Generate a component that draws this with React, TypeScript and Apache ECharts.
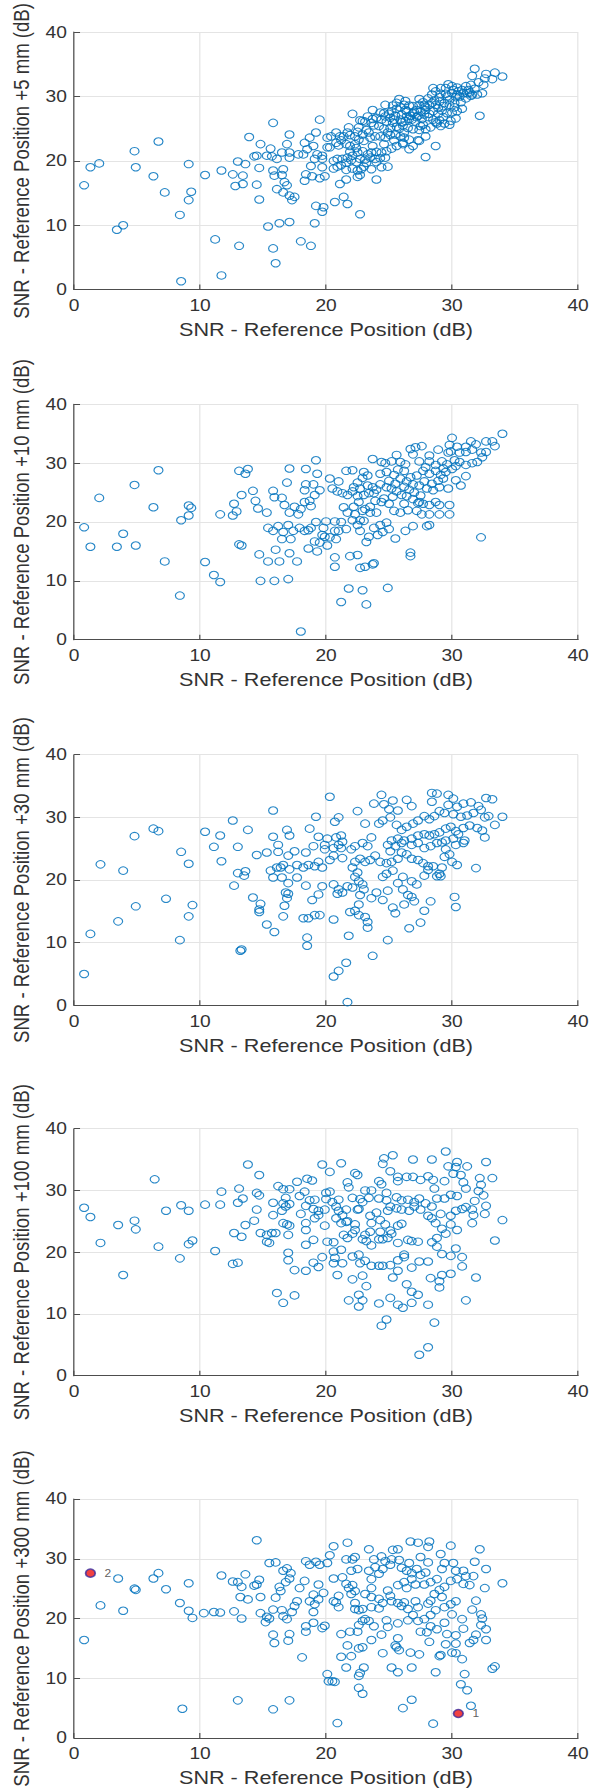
import { useEffect, useRef } from "react";
import * as echarts from "echarts";

type Pt = [number, number];

// ---------- texts ----------
const xAxisTitle = "SNR - Reference Position (dB)";
const yTitles = [
  "SNR - Reference Position +5 mm (dB)",
  "SNR - Reference Position +10 mm (dB)",
  "SNR - Reference Position +30 mm (dB)",
  "SNR - Reference Position +100 mm (dB)",
  "SNR - Reference Position +300 mm (dB)",
];
const axisMin = 0;
const axisMax = 40;
const axisStep = 10;

// ---------- data (x: SNR reference, y: SNR displaced) ----------
const snr5mm: Pt[] = [
  [0.8,16.2],[1.3,19.0],[2.0,19.6],[3.4,9.3],[3.9,10.0],[4.8,21.5],[4.9,19.0],[6.3,17.6],[6.7,23.0],[7.2,15.1],[8.4,11.6],[8.5,1.3],[9.1,19.5],[9.1,13.9],[9.3,15.2],
  [31.8,34.3],[33.4,33.7],[34.0,33.1],[32.7,33.5],[31.6,33.2],[32.6,32.8],[33.2,32.7],[32.5,31.8],[32.1,32.2],[31.5,31.8],[31.1,31.6],[30.4,31.4],[30.1,31.0],[29.7,31.9],[29.5,31.3],[29.1,31.3],[28.5,31.3],[28.7,30.8],[28.4,30.3],[29.1,30.4],[29.5,30.4],[30.0,30.5],[30.5,30.8],[30.9,30.5],[31.2,30.5],[31.6,30.3],[32.0,30.3],[32.4,30.5],[31.8,31.2],[30.3,29.9],[29.8,29.5],[29.4,29.0],[29.0,29.2],[28.7,28.7],[28.2,28.7],[28.1,29.7],[27.7,29.1],[27.4,28.7],[27.2,27.9],[26.9,28.5],[26.6,28.6],[26.2,28.7],[25.8,29.6],[25.6,29.0],[25.3,28.6],[24.7,28.7],[25.6,28.1],[26.4,27.7],[26.9,27.4],[27.5,27.7],[27.9,27.9],[28.5,27.7],[28.9,28.2],[29.2,27.8],[29.6,27.4],[30.0,27.5],[30.4,27.7],[30.8,28.1],[29.8,28.7],[30.2,29.0],[30.7,29.1],[31.1,29.7],[31.5,30.1],[32.2,27.0],[31.3,31.0],
  [25.1,26.7],[24.7,26.9],[24.4,26.4],[24.8,26.1],[25.3,25.9],[25.9,26.4],[26.4,26.9],[26.8,26.4],[27.1,26.1],[27.6,26.5],[28.1,26.8],[28.5,26.4],[29.0,26.3],[29.4,25.8],[29.8,25.6],[29.1,25.4],[28.3,25.2],[27.9,24.9],[27.4,24.8],[26.9,24.9],[26.5,25.1],[26.1,25.5],[25.6,25.3],[25.1,25.1],[24.6,25.0],[24.2,25.4],[23.8,25.5],[23.6,25.9],[23.7,26.5],[23.3,26.9],[22.9,26.2],[22.7,26.3],[23.1,26.1],[22.1,27.3],[23.7,27.9],[23.4,24.4],[22.9,24.1],[22.5,24.5],[22.3,23.8],[21.9,24.0],[21.7,24.4],[21.4,23.8],[21.1,23.8],[20.8,24.4],[20.4,23.8],[20.1,23.6],[20.3,22.1],[20.8,22.8],[21.2,23.2],[21.6,22.6],[21.9,22.3],[22.3,22.6],[22.6,23.3],[23.0,23.1],[23.5,23.6],[23.9,23.8],[24.3,23.8],[24.7,23.6],[25.1,24.0],[25.5,24.1],[25.9,23.8],[26.2,23.6],[26.6,23.3],[27.3,23.2],[27.9,23.8],[28.7,22.3],[26.6,21.8],[26.1,22.6],[25.6,22.3],[25.2,21.9],[24.8,21.5],[24.4,21.3],[24.0,21.4],[23.6,21.3],[23.3,21.0],[22.9,21.5],[22.5,21.3],[22.1,20.8],[21.7,20.5],[21.3,20.3],[20.9,20.3],[20.6,20.0],[20.6,18.8],[20.9,19.1],[21.2,19.3],[21.6,19.7],[22.0,20.1],[22.4,19.8],[22.7,20.3],[23.1,20.2],[23.5,20.5],[23.9,20.3],[24.3,20.4],[24.7,20.5],[24.9,19.1],[24.4,19.0],[24.0,19.8],[23.6,18.7],[23.2,19.7],[22.8,18.7],[22.5,18.5],[22.1,18.8],[21.6,18.6],[22.5,17.5],[22.7,17.8],[21.6,17.1],[21.1,16.4],[24.0,17.1],[27.9,20.6],[27.4,23.1],[26.9,22.3],[26.1,22.8],
  [25.0,27.3],[25.5,27.0],[26.0,27.2],[26.3,26.2],[26.7,27.0],[27.0,27.6],[27.3,27.0],[27.8,27.2],[28.2,27.3],[25.8,25.0],[26.2,24.4],[27.7,25.6],[28.8,25.8],[29.3,26.8],[29.9,26.2],[30.3,26.6],[30.2,28.3],[30.6,30.0],[29.3,28.5],[28.6,29.4],[27.9,28.4],[27.4,29.6],[26.3,29.3],[24.3,27.5],[24.0,26.7],[24.9,24.4],[23.2,24.8],[22.6,25.2],[21.8,25.2],[21.0,22.4],[22.4,22.0],[23.7,22.3],[24.6,22.6],[25.4,23.2],[23.0,19.1],[21.9,21.4],
  [26.0,26.0],[25.4,26.4],[26.6,26.5],[27.2,26.8],[27.8,28.6],[28.4,29.0],[29.0,29.9],[29.6,30.0],[30.4,30.3],[30.8,31.0],[31.4,30.6],[30.0,31.6],[28.9,27.3],[26.3,27.9],[25.9,28.3],[25.2,27.7],[24.6,27.4],[27.5,25.4],[28.7,26.0],
  [19.5,26.4],[19.2,24.4],[18.7,23.6],[18.3,22.8],[18.5,21.8],[18.2,21.0],[17.8,21.0],[19.0,22.3],[19.3,21.0],[19.7,20.8],[19.1,20.3],[18.8,19.2],[18.4,17.9],[18.3,16.9],[18.9,17.6],[19.5,17.3],[19.9,17.6],[19.7,19.0],[19.7,20.3],[20.1,22.1],[17.1,24.1],[16.9,22.6],[16.5,21.3],[16.1,20.3],[15.7,20.7],[15.3,20.8],[14.5,20.8],[14.3,20.7],[13.9,23.7],[14.8,22.6],[15.6,21.9],[13.6,19.5],[13.0,19.9],[12.6,17.9],[11.7,18.5],[10.4,17.8],[12.8,16.1],[13.4,16.4],[13.4,17.7],[14.5,16.3],[14.7,18.9],[15.8,18.5],[15.9,17.7],[16.6,18.7],[16.5,17.8],[16.7,16.7],[16.9,16.2],[17.1,14.6],[16.6,15.1],[16.1,15.6],[17.3,13.9],[17.5,14.4],[17.1,20.5],[17.1,21.3],[15.8,25.9],[14.7,14.0],[19.2,13.0],[19.8,12.8],[19.7,12.1],[20.7,13.6],[21.4,14.4],[21.7,13.3],[22.7,11.7],[15.4,9.8],[16.3,10.3],[17.1,10.5],[19.1,10.3],[11.2,7.8],[13.1,6.8],[15.8,6.4],[18.0,7.5],[18.8,6.8],[16.0,4.1],[11.7,2.2],
];

const snr10mm: Pt[] = [
  [0.8,19.1],[1.3,15.8],[2.0,24.1],[3.4,15.8],[3.9,18.0],[4.8,26.3],[4.9,16.0],[6.3,22.5],[6.7,28.8],[7.2,13.3],[8.4,7.5],[8.5,20.3],[9.1,22.8],[9.1,21.1],[9.3,22.4],
  [34.0,35.0],[30.0,34.3],[31.5,33.7],[32.7,33.7],[33.2,33.7],[33.4,32.9],[31.9,33.2],[31.1,32.8],[30.4,32.8],[29.8,33.1],[29.9,32.0],[30.6,31.8],[31.1,31.9],[31.6,32.3],[32.3,31.8],[32.7,31.9],[32.4,31.0],[32.0,30.2],[31.6,30.0],[31.1,29.7],[30.6,30.2],[30.2,30.5],[29.7,31.8],[28.9,32.3],[28.2,31.3],[27.6,32.9],[27.1,32.7],[26.7,32.4],[26.9,31.5],[27.4,30.3],[28.2,30.3],[28.7,29.7],[29.3,29.1],[29.5,28.5],[29.1,28.0],[28.7,28.7],[28.2,28.2],[27.7,28.7],[27.2,27.9],[26.7,27.6],[26.2,28.7],[25.6,31.4],[25.9,30.2],[25.2,30.3],[24.7,30.0],[24.4,30.2],[23.7,30.7],[24.3,28.2],[24.8,28.5],[25.4,28.0],[25.9,27.4],[26.4,26.9],[26.9,26.4],[27.4,26.2],[28.0,25.7],[28.5,25.4],[29.0,25.9],[29.7,25.7],[30.3,27.1],[30.7,26.2],[31.1,27.8],[32.3,17.4],
  [22.1,28.8],[21.6,28.7],[23.0,28.5],[23.3,27.9],[22.9,27.5],[22.5,26.7],[22.2,25.9],[22.7,25.7],[23.3,26.2],[23.7,25.9],[23.8,24.9],[23.4,24.9],[23.0,24.6],[22.5,24.4],[22.1,25.2],[21.7,24.6],[21.3,24.9],[20.9,25.2],[20.5,25.7],[20.3,27.4],[21.0,26.9],[24.3,26.4],[24.8,25.9],[25.2,25.7],[25.6,25.2],[26.0,24.6],[26.4,24.4],[26.9,23.9],[27.4,23.4],[27.7,23.1],[28.2,22.9],[28.7,23.4],[29.0,22.9],[29.8,22.9],[28.2,21.3],[29.0,21.3],[29.8,21.3],[27.6,21.3],[27.3,23.2],[26.5,22.0],[25.9,21.6],[25.4,21.9],[25.0,23.1],[24.4,23.4],[23.9,23.6],[23.5,22.6],[23.1,22.2],[22.6,23.4],[22.2,22.6],[21.7,21.6],[22.3,21.3],[22.7,20.3],[23.0,20.2],[23.5,21.6],[24.0,21.6],[24.3,19.5],[24.8,19.9],[25.0,18.8],[24.5,18.3],[24.1,17.8],[23.8,19.0],[23.4,17.5],[23.2,16.6],[22.7,18.5],[22.5,19.5],[22.1,20.3],[21.6,18.8],[21.2,20.0],[20.7,20.1],[20.7,18.5],[20.8,17.1],[20.3,17.4],[19.9,17.5],[20.1,16.0],[19.7,17.8],[19.8,19.0],[20.0,20.1],[21.0,18.5],[25.5,17.2],[26.3,18.5],[26.9,19.3],[28.0,19.3],[28.2,19.5],[26.7,14.8],[26.7,14.2],[22.5,14.4],[21.9,14.2],[20.7,14.0],[20.7,12.4],[22.7,12.2],[23.1,12.4],[23.7,12.8],[23.8,13.0],[21.8,8.7],[22.9,8.4],[24.9,8.8],[21.2,6.4],[23.2,6.0],[18.0,1.4],
  [25.5,26.5],[26.2,26.0],[26.6,25.5],[27.0,25.0],[27.5,24.5],[25.0,27.0],[25.7,28.9],[26.3,29.8],[27.9,29.3],[28.9,27.0],[29.3,27.4],[29.6,29.8],[30.0,29.0],[30.3,29.5],[29.2,30.3],[28.4,26.5],[27.8,26.9],[24.6,24.0],[25.3,24.3],[24.0,25.5],[22.9,21.9],[21.4,22.5],[26.2,23.1],[27.2,21.9],
  [19.2,30.5],[18.4,29.0],[19.3,28.2],[17.1,29.1],[16.9,26.7],[18.4,26.4],[19.0,26.4],[18.3,25.4],[19.5,25.4],[19.1,24.6],[18.7,23.6],[18.8,22.7],[18.3,23.4],[18.0,22.2],[17.8,21.3],[17.5,22.6],[17.1,21.6],[16.7,22.9],[16.5,24.1],[15.9,24.2],[15.8,25.3],[15.3,21.6],[14.6,22.3],[14.4,23.6],[14.2,25.3],[13.3,24.6],[12.7,23.1],[12.9,21.8],[12.6,21.1],[11.6,21.3],[13.1,28.7],[13.6,28.2],[13.8,29.0],[15.4,19.0],[15.8,18.5],[16.2,19.3],[16.6,18.3],[17.0,19.5],[17.2,17.1],[16.5,17.1],[17.4,18.5],[17.9,19.0],[18.6,18.6],[18.8,19.0],[18.3,18.5],[19.2,20.0],[19.1,16.7],[18.6,15.5],[19.3,15.0],[19.5,16.5],[16.0,15.3],[17.1,14.7],[17.7,13.3],[14.7,14.5],[15.4,13.3],[16.3,13.3],[13.1,16.2],[13.3,16.0],[14.8,10.0],[15.9,10.0],[17.0,10.3],[10.4,13.2],[11.1,11.0],[11.6,9.8],
];

const snr30mm: Pt[] = [
  [0.8,5.0],[1.3,11.4],[2.1,22.5],[3.5,13.4],[3.9,21.5],[4.8,27.0],[4.9,15.8],[6.3,28.2],[6.7,27.8],[7.3,17.0],[8.4,10.4],[8.5,24.5],[9.1,22.6],[9.1,14.2],[9.4,16.0],
  [20.3,33.3],[24.4,33.6],[23.8,32.2],[24.6,32.1],[25.3,32.7],[25.0,31.3],[25.7,31.1],[26.4,32.8],[26.8,31.8],[22.5,31.0],[19.2,30.1],[15.8,31.1],[12.6,29.5],[10.4,27.7],[11.6,27.1],[13.8,28.0],[11.1,25.3],[13.0,25.3],[11.7,23.0],[16.9,28.0],[17.1,27.1],[15.8,26.9],[16.2,25.6],[18.7,28.2],[19.4,26.9],[21.0,30.0],[20.7,29.3],[20.1,26.6],[20.8,26.8],[21.2,27.1],[21.3,26.1],[21.0,25.6],[20.6,25.1],[19.9,25.6],[19.9,24.9],[19.0,25.4],[18.4,24.4],[17.5,24.6],[17.0,23.9],[16.2,24.5],[15.3,24.4],[14.5,24.0],[16.6,22.4],[16.4,22.0],[17.1,21.7],[17.7,22.4],[18.2,22.0],[18.6,22.4],[19.1,22.2],[19.4,22.9],[19.7,22.0],[20.3,23.2],[20.6,23.9],[21.3,23.5],[21.2,25.1],[22.0,24.9],[22.3,25.4],[22.9,25.9],[23.3,25.4],[23.6,26.8],[23.1,29.0],[24.2,29.0],[24.5,29.5],[25.1,30.0],[25.6,28.8],[26.0,28.0],[26.4,28.5],[26.9,29.0],[27.3,29.5],[27.8,30.2],[28.2,29.7],[28.6,30.2],[29.0,31.0],[29.4,30.7],[28.4,32.5],[28.4,33.9],[28.8,33.8],[29.7,33.6],[30.1,33.0],[29.7,32.0],[30.4,31.7],[30.9,32.2],[31.5,32.4],[32.1,31.8],[32.7,33.1],[33.2,32.9],[32.3,31.2],[31.7,30.7],[31.2,30.3],[30.7,30.1],[30.1,30.5],[32.6,30.0],[32.9,30.2],[34.0,30.1],[33.4,28.8],[32.4,27.9],[32.0,28.3],[32.6,26.8],[31.4,28.7],[30.9,28.3],[30.3,27.8],[29.9,28.5],[29.5,28.2],[29.0,27.6],[28.6,27.3],[28.2,27.1],[27.8,27.3],[27.3,27.1],[26.8,26.6],[26.2,26.3],[25.7,26.6],[25.2,26.3],[24.9,25.6],[25.1,24.6],[25.5,25.4],[26.0,25.9],[26.8,25.6],[27.3,25.9],[27.8,25.1],[28.3,25.4],[28.8,25.9],[29.2,26.0],[29.5,26.3],[30.1,26.6],[30.5,27.3],[31.0,26.3],[30.9,25.9],[30.3,25.6],[29.5,24.9],[29.8,24.1],[29.4,23.7],[30.0,22.9],[30.4,22.4],[29.2,22.0],[29.0,21.0],[28.8,20.6],[28.5,22.2],[28.1,22.2],[27.7,22.7],[27.3,23.2],[26.8,23.4],[26.4,24.1],[26.0,24.4],[25.7,23.4],[25.2,22.9],[24.8,22.7],[24.3,22.9],[23.9,23.9],[23.5,23.2],[23.1,22.9],[22.7,23.4],[22.3,22.9],[22.1,22.0],[22.5,21.2],[22.3,20.5],[22.6,19.8],[22.9,19.3],[23.0,18.5],[22.7,17.6],[22.6,16.1],[22.3,15.1],[22.6,14.4],[23.1,14.1],[23.3,13.3],[23.3,12.4],[21.9,14.9],[22.1,18.8],[21.7,19.0],[21.0,18.5],[20.6,19.3],[20.9,17.8],[21.3,18.0],[20.6,13.7],[21.8,11.1],[23.6,17.1],[24.0,18.0],[24.5,16.8],[24.9,18.3],[25.3,15.6],[25.5,14.7],[25.7,19.5],[26.1,18.5],[26.2,16.1],[26.5,17.6],[26.8,19.8],[27.2,19.3],[27.0,16.6],[26.8,17.3],[27.8,15.1],[27.5,13.2],[28.3,16.6],[26.6,12.3],[24.9,10.4],[23.7,7.9],[21.6,6.8],[21.0,5.5],[20.6,4.6],[21.7,0.5],[30.2,17.3],[30.3,15.7],[31.9,21.9],[29.1,20.6],[24.5,20.5],[24.8,21.0],[25.3,21.5],[26.1,20.5],[27.8,20.7],[28.1,21.6],
  [19.1,14.4],[19.5,14.4],[18.9,16.8],[16.8,18.0],[17.0,17.8],[16.9,17.1],[16.7,15.9],[16.6,14.2],[15.3,12.9],[15.9,11.7],[14.2,17.2],[14.8,16.2],[14.7,14.9],[14.7,15.3],[12.7,19.1],[13.0,21.1],[13.5,20.7],[13.6,21.4],[13.2,8.7],[13.3,8.9],[15.6,21.5],[15.8,20.4],[16.1,22.0],[16.5,20.4],[17.0,19.5],[17.7,20.4],[18.4,19.1],[18.5,10.8],[18.5,9.5],[19.7,19.0],[19.4,17.7],[18.2,13.9],[18.6,13.9],
];

const snr100mm: Pt[] = [
  [0.8,27.2],[1.3,25.7],[2.1,21.5],[3.5,24.4],[3.9,16.3],[4.8,25.1],[4.9,23.7],[6.4,31.8],[6.7,20.9],[7.3,26.7],[8.4,19.0],[8.5,27.6],[9.1,21.3],[9.1,26.7],[9.4,21.9],
  [13.8,34.2],[14.7,32.5],[10.4,27.7],[11.6,27.7],[11.7,29.8],[13.1,30.3],[13.0,28.0],[13.4,28.7],[14.5,29.6],[14.7,29.2],[14.5,26.9],[14.3,25.1],[13.6,24.4],[12.7,23.1],[13.3,22.5],[11.2,20.2],[12.6,18.1],[13.0,18.3],[14.8,23.1],[15.3,22.8],[15.5,21.5],[15.3,21.7],[15.7,23.1],[16.0,23.1],[15.8,26.0],[15.8,28.0],[16.2,30.7],[16.6,30.2],[17.1,30.2],[17.7,31.4],[16.6,27.9],[16.8,27.4],[17.1,27.8],[16.8,28.8],[16.5,26.7],[16.6,24.7],[16.9,24.5],[17.1,24.3],[17.0,22.8],[17.0,19.9],[17.0,18.7],[17.5,17.1],[16.1,13.4],[16.6,11.8],[17.5,13.0],[17.9,29.1],[18.3,29.8],[18.5,31.9],[18.9,31.6],[18.0,26.2],[18.4,27.5],[18.7,28.4],[19.1,28.5],[19.0,27.0],[19.4,26.7],[19.1,25.5],[19.4,26.0],[18.4,24.7],[18.4,23.6],[19.0,22.0],[18.4,21.2],[18.4,17.0],[19.0,18.3],[19.4,17.6],[19.7,19.2],
  [19.7,34.2],[20.3,33.0],[20.0,29.6],[20.3,29.8],[20.0,28.6],[20.5,28.1],[19.9,26.9],[19.9,24.3],[20.1,21.7],[20.6,21.6],[20.6,20.1],[20.7,19.1],[20.6,18.2],[21.3,18.2],[21.2,34.4],[21.0,28.5],[20.8,27.4],[21.0,26.7],[21.3,26.0],[21.6,26.9],[20.8,25.5],[21.2,24.7],[20.9,16.3],[21.2,20.4],[21.7,31.3],[21.8,30.5],[22.1,28.8],[22.3,32.8],[22.5,32.5],[22.7,28.6],[21.7,25.0],[22.3,24.5],[22.5,26.9],[22.6,27.0],[22.9,28.1],[23.1,30.0],[23.4,28.8],[23.6,30.0],[24.2,31.5],[24.4,31.0],[24.5,34.3],[24.6,35.2],[25.3,35.7],[25.1,33.1],[25.7,32.2],[25.7,31.5],[26.4,32.2],[26.9,32.2],[26.9,35.0],[27.5,31.7],[28.1,32.3],[28.4,35.0],[28.5,31.7],[28.6,30.3],[29.5,36.3],[29.4,31.5],[29.7,33.9],[30.4,34.6],[30.3,33.8],[30.1,32.7],[30.7,32.5],[31.2,33.9],[30.9,31.3],[31.1,30.3],[32.2,32.0],[32.3,30.9],[32.7,34.6],[33.2,32.0],[32.5,29.2],[32.7,27.5],[32.6,26.2],[34.0,25.2],[33.4,21.9],[31.9,15.9],[31.1,12.2],
  [32.1,29.9],[31.8,28.3],[31.6,26.9],[31.6,24.7],[31.7,26.0],[31.1,27.3],[30.8,27.0],[30.4,29.1],[29.9,29.3],[29.4,28.7],[28.8,28.7],[28.4,27.4],[27.9,27.9],[27.4,28.7],[27.0,28.1],[26.5,28.5],[26.0,28.4],[25.6,28.9],[25.1,27.4],[24.9,26.7],[25.6,27.1],[26.0,26.9],[26.6,26.7],[27.0,27.4],[27.5,26.9],[28.1,25.9],[28.4,25.5],[28.7,24.7],[29.1,26.2],[29.9,25.9],[30.3,26.7],[29.9,24.5],[30.4,23.6],[29.5,23.0],[29.2,23.8],[28.8,22.3],[28.4,21.6],[28.8,20.9],[29.2,19.7],[29.9,19.4],[30.3,20.6],[30.8,19.2],[30.8,17.7],[29.9,16.5],[29.2,16.3],[29.0,15.3],[29.0,14.3],[28.3,15.8],[28.1,18.5],[27.4,18.5],[26.8,17.5],[26.4,14.8],[26.8,13.6],[27.3,13.1],[28.1,11.5],[28.6,8.6],[26.8,11.8],[26.1,11.0],[25.7,11.5],[25.1,12.6],[24.2,11.7],[24.8,9.1],[24.4,8.1],[28.1,4.6],[27.4,3.4],
  [25.7,17.0],[25.3,15.9],[25.7,18.7],[25.1,17.9],[24.5,17.8],[24.2,17.8],[23.6,17.8],[23.1,18.6],[22.7,18.2],[22.6,19.6],[22.1,19.3],[22.9,16.2],[23.2,14.5],[22.6,13.1],[22.9,12.2],[22.6,11.2],[21.8,12.2],[22.1,15.6],[26.2,19.6],[26.2,19.2],[26.5,22.0],[26.8,21.8],[27.3,21.7],[25.7,21.5],[25.1,23.5],[25.2,23.0],[25.7,24.3],[26.0,24.6],[24.7,24.5],[24.3,25.2],[23.6,24.7],[23.5,23.3],[23.1,22.8],[22.9,22.1],[23.2,21.8],[23.6,21.1],[24.2,22.1],[24.5,22.1],[24.9,22.3],[24.3,23.3],[22.3,23.6],[22.1,23.0],[21.7,22.3],[21.4,22.8],[21.6,24.9],[23.5,25.9],[24.0,26.4],[24.2,28.7],[24.8,28.4],[24.8,29.6],
];

const snr300mm: Pt[] = [
  [0.8,16.4],[2.1,22.2],[3.5,26.7],[3.9,21.3],[4.8,25.0],[4.9,24.8],[6.3,26.7],[6.7,27.6],[7.3,24.9],[8.4,22.6],[8.6,4.9],[9.1,25.9],[9.1,21.3],[9.4,20.1],
  [14.5,33.1],[11.7,27.2],[10.3,20.9],[11.1,21.1],[11.6,21.0],[12.6,26.2],[13.0,26.1],[13.3,25.3],[13.6,27.4],[13.2,23.6],[13.8,23.2],[12.7,21.2],[13.3,20.0],[14.3,25.5],[14.7,26.5],[14.5,25.7],[14.8,23.6],[14.8,20.9],[15.3,20.3],[15.2,19.4],[15.5,20.0],[15.5,29.3],[16.0,29.4],[15.8,21.5],[15.8,17.3],[15.9,15.9],[16.6,28.0],[16.9,28.4],[17.2,27.6],[17.1,26.7],[16.8,26.1],[16.3,25.3],[16.4,24.6],[16.0,23.5],[16.5,21.4],[16.6,20.4],[16.9,19.9],[17.3,21.1],[17.1,17.4],[17.0,16.3],[18.1,13.5],[17.5,22.1],[17.7,22.9],[17.9,25.1],[18.3,26.3],[18.4,29.6],[18.7,29.0],[19.2,29.5],[19.5,29.0],[19.0,24.0],[18.7,22.9],[19.1,22.4],[19.4,23.2],[19.0,21.1],[19.0,19.3],[18.4,18.7],[18.4,17.8],[19.7,18.4],[19.9,18.8],[19.4,25.7],[19.8,24.3],[13.0,6.3],[15.8,4.8],[17.1,6.3],
  [20.1,29.3],[20.3,30.6],[20.6,32.1],[20.1,10.7],[20.2,9.5],[20.5,9.5],[20.7,9.4],[20.9,2.5],[20.6,26.7],[20.6,22.9],[20.8,22.7],[21.0,21.9],[21.3,26.9],[21.6,25.8],[21.8,25.1],[21.0,23.8],[21.2,17.4],[21.6,11.8],[21.7,32.7],[21.6,29.9],[22.1,29.9],[22.3,30.3],[22.5,28.3],[22.0,28.0],[22.1,25.6],[22.3,24.6],[22.0,24.1],[22.3,22.6],[22.6,21.4],[22.3,21.6],[22.9,21.6],[22.9,19.6],[23.1,19.9],[22.6,18.9],[22.5,17.8],[21.9,17.8],[21.7,15.5],[22.0,13.7],[21.2,13.6],[22.6,15.0],[22.9,15.2],[23.0,11.8],[22.7,10.9],[22.6,10.4],[22.6,8.4],[22.9,7.4],
  [23.4,31.6],[23.8,29.9],[24.4,30.4],[24.7,29.6],[23.9,28.6],[23.4,28.0],[23.6,26.6],[24.2,27.5],[24.5,28.3],[25.1,29.0],[25.2,29.9],[25.3,31.5],[25.7,31.6],[25.8,29.8],[23.6,25.1],[23.1,24.1],[23.6,23.6],[24.2,23.3],[24.5,22.6],[25.1,23.8],[25.2,22.9],[25.7,22.6],[26.0,22.1],[24.9,24.7],[24.2,21.7],[23.6,21.9],[23.4,19.6],[23.8,18.7],[24.4,17.3],[24.8,19.7],[24.9,18.6],[25.7,19.2],[25.7,16.7],[25.5,15.5],[25.6,15.2],[25.8,14.7],[24.5,14.2],[25.2,11.8],[25.7,11.0],[23.6,16.4],[26.8,6.4],[26.1,5.0],[28.5,2.4],[26.7,14.3],[27.4,14.0],[26.8,11.8],
  [26.6,29.3],[26.0,28.5],[26.4,28.0],[26.8,27.6],[27.2,28.3],[27.5,27.3],[27.9,27.7],[26.8,26.6],[26.2,26.1],[25.7,25.6],[26.4,25.1],[27.1,25.7],[27.8,25.7],[28.3,26.1],[28.8,26.6],[29.0,24.8],[29.4,25.3],[29.9,26.3],[30.4,26.6],[30.9,25.8],[31.4,25.6],[31.1,27.1],[31.7,27.1],[30.9,28.0],[30.3,28.0],[30.1,29.3],[29.2,28.3],[29.4,29.3],[29.1,30.8],[28.1,29.4],[28.1,32.0],[27.5,30.3],[28.2,32.9],[27.3,32.7],[26.7,32.9],[29.9,32.2],[32.2,31.6],[31.8,29.5],[32.7,28.3],[32.6,25.1],[34.0,25.9],[31.9,23.0],[30.3,22.9],[29.9,22.4],[29.4,21.9],[28.7,21.4],[28.3,20.6],[27.8,19.9],[27.3,19.6],[26.9,20.6],[26.5,21.6],[27.3,21.9],[28.1,22.5],[28.6,24.1],[29.2,23.6],[28.3,23.0],[27.1,22.9],[26.2,22.7],[26.5,19.7],[28.3,18.7],[28.0,17.7],[27.5,17.8],[28.8,18.2],[29.4,19.3],[30.0,20.7],[30.8,19.9],[30.9,18.3],[31.6,21.5],[32.3,20.7],[32.4,20.0],[32.3,18.9],[32.7,18.2],[32.7,16.4],[31.9,17.3],[31.7,16.4],[31.4,15.9],[30.3,17.2],[30.3,15.8],[30.3,14.2],[29.6,17.4],[29.0,13.7],[29.1,13.9],[28.2,16.1],[28.7,11.0],[31.0,10.7],[30.7,9.0],[31.2,8.0],[31.5,5.4],[33.2,11.6],[33.4,12.0],[30.8,13.2],[30.0,14.3],[29.5,15.7],
];

// highlighted points in the +300 mm panel
const markedX = [1.3, 30.5];
const markedY = [27.6, 4.1];
const markedLabels = ["2", "1"];

const panelData: Pt[][] = [snr5mm, snr10mm, snr30mm, snr100mm, snr300mm];

// ---------- layout (px) ----------
const STRETCH = 1.2;
const BASE_W = 505;
const layouts = [
  { top: 0, height: 356, gridTop: 28, gridBottom: 66.4 },
  { top: 356, height: 358, gridTop: 22, gridBottom: 74.3 },
  { top: 714, height: 367, gridTop: 18, gridBottom: 75.7 },
  { top: 1081, height: 367, gridTop: 18.7, gridBottom: 72.3 },
  { top: 1448, height: 344, gridTop: 21, gridBottom: 52.7 },
];

const FONT = "'Liberation Sans', Arial, Helvetica, sans-serif";
const TEXT = "#333333";
const AXIS = "#4d4d4d";
const GRID = "#e4e4e4";
const BLUE = "#0072BD";

function axisCommon() {
  return {
    type: "value",
    min: axisMin,
    max: axisMax,
    interval: axisStep,
    nameLocation: "middle",
    axisLine: { show: true, onZero: false, lineStyle: { color: AXIS, width: 1 } },
    axisTick: { show: true, inside: true, length: 5, lineStyle: { color: AXIS, width: 1 } },
    splitLine: { show: true, lineStyle: { color: GRID, width: 1 } },
  };
}

function buildOption(idx: number) {
  const lay = layouts[idx];
  const series: any[] = [
    {
      type: "scatter",
      data: panelData[idx],
      symbol: "circle",
      symbolSize: 7.5,
      silent: true,
      itemStyle: { color: "rgba(0,0,0,0)", borderColor: BLUE, borderWidth: 1, opacity: 0.85 },
    },
  ];
  if (idx === 4) {
    series.push({
      type: "scatter",
      data: markedX.map((x, i) => ({ name: markedLabels[i], value: [x, markedY[i]] })),
      symbol: "circle",
      symbolSize: 8,
      silent: true,
      itemStyle: { color: "#ee1111", borderColor: "#3b2a9c", borderWidth: 1.5 },
      label: {
        show: true,
        position: "right",
        distance: 7,
        formatter: "{b}",
        fontSize: 10,
        color: "#333",
        fontFamily: FONT,
      },
      z: 5,
    });
  }
  return {
    animation: false,
    backgroundColor: "#ffffff",
    grid: { left: 58.3, right: 23.3, top: lay.gridTop, bottom: lay.gridBottom, containLabel: false },
    xAxis: {
      ...axisCommon(),
      name: xAxisTitle,
      nameGap: 31,
      nameTextStyle: { fontSize: 18, color: TEXT, fontFamily: FONT },
      axisLabel: { fontSize: 16, color: TEXT, fontFamily: FONT, margin: 8 },
    },
    yAxis: {
      ...axisCommon(),
      name: yTitles[idx],
      nameGap: 28,
      nameRotate: 90,
      nameTextStyle: { fontSize: 18.6, color: TEXT, fontFamily: FONT },
      axisLabel: { fontSize: 16, color: TEXT, fontFamily: FONT, margin: 6 },
    },
    series,
  };
}

function Panel({ idx }: { idx: number }) {
  const ref = useRef<HTMLDivElement>(null);
  const lay = layouts[idx];
  useEffect(() => {
    if (!ref.current) return;
    const chart = echarts.init(ref.current, undefined, { renderer: "svg" });
    chart.setOption(buildOption(idx) as any);
    return () => chart.dispose();
  }, [idx]);
  return (
    <div
      style={{
        position: "absolute",
        left: 0,
        top: lay.top,
        width: 606,
        height: lay.height,
        overflow: "hidden",
        background: "#fff",
      }}
    >
      <div
        ref={ref}
        style={{
          width: BASE_W,
          height: lay.height,
          transform: `scaleX(${STRETCH})`,
          transformOrigin: "0 0",
        }}
      />
    </div>
  );
}

export default function App() {
  return (
    <div
      style={{
        position: "absolute",
        left: 0,
        top: 0,
        width: 606,
        height: 1792,
        overflow: "hidden",
        background: "#fff",
      }}
    >
      {layouts.map((_, i) => (
        <Panel key={i} idx={i} />
      ))}
    </div>
  );
}
